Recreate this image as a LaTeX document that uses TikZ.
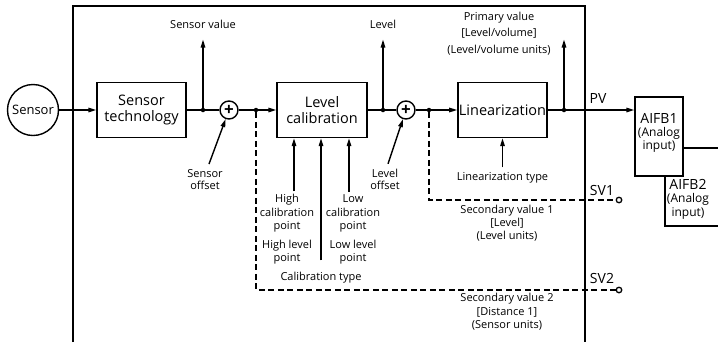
\documentclass[tikz,border=0pt]{standalone}
\usepackage{fontspec}
\setmainfont{Open Sans}
\usetikzlibrary{arrows.meta,positioning,calc}

\tikzset{
  block/.style={draw, line width=1.4bp, minimum width=89bp, minimum height=55bp,
    align=center, inner sep=1bp, font=\fontsize{14.5bp}{15.5bp}\selectfont},
  summer/.style={draw, circle, line width=1.4bp, minimum size=18bp, inner sep=0pt,
    font=\fontsize{17bp}{17bp}\selectfont\bfseries},
  junction/.style={circle, fill, minimum size=4.5bp, inner sep=0pt},
  note/.style={align=center, inner sep=0pt, font=\fontsize{11bp}{12.5bp}\selectfont},
  tag/.style={inner sep=0pt, font=\fontsize{14bp}{15bp}\selectfont},
  wire/.style={line width=1.4bp},
  flow/.style={line width=1.4bp, -{Triangle[length=8bp, width=4.5bp]}},
  secondary/.style={line width=1.4bp, dash pattern=on 6bp off 3.5bp},
  terminal/.style={draw, circle, line width=1.3bp, minimum size=5.5bp, inner sep=0pt, fill=white},
}
\newcommand{\analog}{\fontsize{12bp}{13bp}\selectfont}

\begin{document}
\begin{tikzpicture}[x=1bp, y=-1bp]
    \useasboundingbox (0,0) rectangle (718,342);
    \clip (0,0) rectangle (718,342);

    \draw[line width=1.6bp] (73,342) |- (585,6) -- (585,342);

    \node[draw, circle, line width=1.4bp, minimum size=51bp, inner sep=0pt,
      font=\fontsize{13bp}{15bp}\selectfont] (sensor) at (33,110) {Sensor};
    \node[block] (tech) at (141.5,110) {Sensor\\technology};
    \node[junction] (j1) at (203,110) {};
    \node[summer] (add1) at (229,110) {+};
    \node[junction] (j2) at (256,110) {};
    \node[block, minimum width=90bp] (cal) at (322,110) {Level\\calibration};
    \node[junction] (j3) at (383,110) {};
    \node[summer] (add2) at (406,110) {+};
    \node[junction] (j4) at (429,110) {};
    \node[block] (lin) at (502.5,110) {Linearization};
    \node[junction] (j5) at (564,110) {};

    \node[draw, line width=1.4bp, minimum width=95bp, minimum height=78bp] (aifb2) at (712.5,187) {};
    \node[draw, fill=white, line width=1.4bp, minimum width=48bp, minimum height=79bp] (aifb1) at (659,136.5) {};
    \node[align=center, inner sep=0pt, font=\fontsize{14bp}{13bp}\selectfont] (aifb1txt) at (659,133)
      {AIFB1\\\analog(Analog\\\analog input)};
    \node[align=center, inner sep=0pt, font=\fontsize{14bp}{13.5bp}\selectfont] (aifb2txt) at (688,199)
      {AIFB2\\\analog(Analog\\\analog input)};

    \draw[flow] (sensor) -- (tech);
    \draw[wire] (tech) -- (j1) -- (add1) -- (j2);
    \draw[flow] (j2) -- (cal);
    \draw[wire] (cal) -- (j3) -- (add2) -- (j4);
    \draw[flow] (j4) -- (lin);
    \draw[wire] (lin) -- (j5);
    \draw[flow] (j5) -- (j5 -| aifb1.west);
    \node[tag] (pv) at (598,98) {PV};

    \coordinate[above=68bp of j1] (svtop);
    \coordinate[above=68bp of j3] (lvtop);
    \coordinate[above=68bp of j5] (pvtop);
    \draw[flow] (j1) -- (svtop);
    \draw[flow] (j3) -- (lvtop);
    \draw[flow] (j5) -- (pvtop);
    \node[note, above=11bp of svtop] (svlabel) {Sensor value};
    \node[note, above=11bp of lvtop] (lvlabel) {Level};
    \node[note, font=\fontsize{11bp}{16.5bp}\selectfont] (pvlabel) at (499,33.5)
      {Primary value\\{[}Level/volume{]}\\(Level/volume units)};

    \node[note] (soff) at (205,179.5) {Sensor\\offset};
    \node[note] (loff) at (385,179.5) {Level\\offset};
    \draw[flow] ([xshift=4bp, yshift=5bp]soff.north) -- (add1);
    \draw[flow] ([xshift=3bp, yshift=5bp]loff.north) -- (add2);

    \node[note] (lintype) at (502.5,178) {Linearization type};
    \draw[flow] ([yshift=5bp]lintype.north) -- (lin.south);

    \node[note, font=\fontsize{11bp}{13.5bp}\selectfont] (hcal) at (287,213.5) {High\\calibration\\point};
    \node[note, font=\fontsize{11bp}{13.5bp}\selectfont] (lcal) at (353,213.5) {Low\\calibration\\point};
    \node[note, font=\fontsize{11bp}{13.5bp}\selectfont] (hlev) at (287,252) {High level\\point};
    \node[note, font=\fontsize{11bp}{13.5bp}\selectfont] (llev) at (353,252) {Low level\\point};
    \node[note] (caltype) at (321,278) {Calibration type};
    \draw[flow] ([xshift=7bp, yshift=3bp]hcal.north) coordinate (hi) -- (hi |- cal.south);
    \draw[flow] ([xshift=-4bp, yshift=3bp]lcal.north) coordinate (lo) -- (lo |- cal.south);
    \draw[flow] ([yshift=12bp]caltype.north) coordinate (ct) -- (ct |- cal.south);

    \node[terminal] (sv1) at (619,200) {};
    \node[terminal] (sv2) at (619,290) {};
    \draw[secondary] (j4) |- (sv1);
    \draw[secondary] (j2) |- (sv2);
    \node[tag] (sv1tag) at (602,190) {SV1};
    \node[tag] (sv2tag) at (602,278) {SV2};
    \node[note, font=\fontsize{11bp}{13bp}\selectfont] (sec1) at (507,223)
      {Secondary value 1\\{[}Level{]}\\(Level units)};
    \node[note, font=\fontsize{11bp}{13.5bp}\selectfont] (sec2) at (507,312)
      {Secondary value 2\\{[}Distance 1{]}\\(Sensor units)};
\end{tikzpicture}
\end{document}
